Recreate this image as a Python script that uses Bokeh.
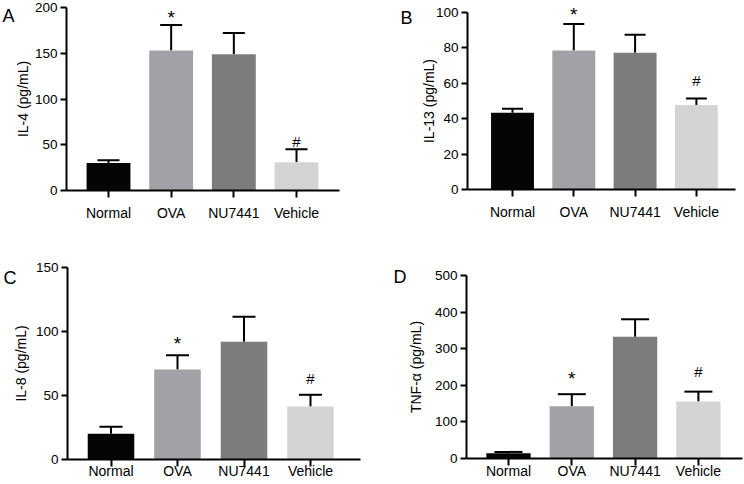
from bokeh.plotting import figure
from bokeh.models import (ColumnDataSource, Whisker, TeeHead, Label, LabelSet,
                          Range1d, FixedTicker)
from bokeh.layouts import column, row
from bokeh.core.properties import value
from bokeh.embed import file_html
from bokeh.resources import INLINE

categories = ["Normal", "OVA", "NU7441", "Vehicle"]
sig_marks = ["", "*", "", "#"]

il4_mean = [30, 153, 149, 31]
il4_err = [3, 28, 23, 14]
il4_sig_y = [None, 193, None, 55]
il4_ticks = [0, 50, 100, 150, 200]

il13_mean = [43.3, 78.5, 77.2, 47.8]
il13_err = [2.3, 15.0, 10.2, 3.6]
il13_sig_y = [None, 101, None, 62]
il13_ticks = [0, 20, 40, 60, 80, 100]

il8_mean = [19.9, 70.2, 91.9, 41.2]
il8_err = [5.4, 11.2, 19.5, 9.2]
il8_sig_y = [None, 94, None, 64]
il8_ticks = [0, 50, 100, 150]

tnf_mean = [14.6, 143, 333, 156]
tnf_err = [3.4, 33, 48, 27]
tnf_sig_y = [None, 231, None, 240]
tnf_ticks = [0, 100, 200, 300, 400, 500]

bar_colors = ["#050505", "#a2a2a6", "#7c7c7c", "#d4d4d4"]
FONT = "Liberation Sans"
W, H = 372, 242


def panel(letter, ylabel, means, errs, sig_y, ticks, g):
    ymax = ticks[-1]
    s = g["s"]
    x_start = -g["c0"] / s
    x_end = x_start + W / s
    axis_x = x_start + g["axis"] / s
    xb_end = x_start + g["xend"] / s
    k = (g["y0"] - g["ytop"]) / ymax
    y_end = g["y0"] / k
    y_start = -(H - g["y0"]) / k

    xs = list(range(len(categories)))
    p = figure(width=W, height=H, output_backend="svg", toolbar_location=None,
               x_range=Range1d(x_start, x_end), y_range=Range1d(y_start, y_end),
               min_border=0, min_border_left=0, min_border_right=0,
               min_border_top=0, min_border_bottom=0)
    p.outline_line_color = None
    p.xgrid.visible = False
    p.ygrid.visible = False

    src = ColumnDataSource(dict(x=xs, mean=means,
                                upper=[m + e for m, e in zip(means, errs)],
                                color=bar_colors))
    p.vbar(x="x", top="mean", width=0.7, source=src, fill_color="color",
           line_color=None)
    p.add_layout(Whisker(base="x", lower="mean", upper="upper", source=src,
                         line_width=2, line_color="black",
                         upper_head=TeeHead(size=g["cap"], line_width=2,
                                            line_color="black"),
                         lower_head=None))

    sx, sy, st, fs, yo = [], [], [], [], []
    for i, (m, y) in enumerate(zip(sig_marks, sig_y)):
        if m and y is not None:
            sx.append(i); sy.append(y); st.append(m)
            fs.append("19px" if m == "*" else "15px")
            yo.append(-4 if m == "*" else -1)
    ssrc = ColumnDataSource(dict(x=sx, y=sy, t=st, fs=fs, yo=yo))
    p.add_layout(LabelSet(x="x", y="y", text="t", source=ssrc,
                          y_offset="yo", text_font_size="fs",
                          text_align="center", text_baseline="middle",
                          text_font=value(FONT), text_color="black"))

    for ax in (p.xaxis[0], p.yaxis[0]):
        ax.axis_line_width = 2
        ax.axis_line_color = "black"
        ax.major_tick_line_width = 2
        ax.major_tick_line_color = "black"
        ax.major_tick_in = 0
        ax.minor_tick_line_color = None
        ax.major_label_text_font = FONT
        ax.major_label_text_color = "black"

    p.xaxis.fixed_location = 0
    p.xaxis.bounds = (axis_x, xb_end)
    p.xaxis.ticker = FixedTicker(ticks=xs)
    p.xaxis.major_label_overrides = {i: c for i, c in enumerate(categories)}
    p.xaxis.major_label_text_font_size = "14px"
    p.xaxis.major_tick_out = 7
    p.xaxis.major_label_standoff = g["xstand"]

    p.yaxis.fixed_location = axis_x
    p.yaxis.bounds = (0, ymax)
    p.yaxis.ticker = FixedTicker(ticks=ticks)
    p.yaxis.major_label_text_font_size = "13.5px"
    p.yaxis.major_tick_out = 6
    p.yaxis.major_label_standoff = 3
    p.yaxis.axis_label = ylabel
    p.yaxis.axis_label_text_font = FONT
    p.yaxis.axis_label_text_font_size = "14px"
    p.yaxis.axis_label_text_font_style = "normal"
    p.yaxis.axis_label_text_color = "black"
    p.yaxis.axis_label_standoff = g["ystand"]

    lx, ly = g["letter"]
    p.add_layout(Label(x=x_start + lx / s, y=(g["y0"] - (ly - 3)) / k,
                       text=letter, text_font=FONT, text_font_size="18px",
                       text_color="black", text_align="left",
                       text_baseline="top"))
    return p


pA = panel("A", "IL-4 (pg/mL)", il4_mean, il4_err, il4_sig_y, il4_ticks,
           dict(axis=66, c0=108, s=62.67, xend=339, ytop=7, y0=190,
                letter=(2, 8), cap=22, xstand=7, ystand=1))
pB = panel("B", "IL-13 (pg/mL)", il13_mean, il13_err, il13_sig_y, il13_ticks,
           dict(axis=95, c0=140, s=61.3, xend=363, ytop=12, y0=189,
                letter=(28, 10), cap=21, xstand=7, ystand=-4))
pC = panel("C", "IL-8 (pg/mL)", il8_mean, il8_err, il8_sig_y, il8_ticks,
           dict(axis=67, c0=110.5, s=66.5, xend=360, ytop=25, y0=216.7,
                letter=(3, 28), cap=23, xstand=-3, ystand=4))
pD = panel("D", "TNF-\u03b1 (pg/mL)", tnf_mean, tnf_err, tnf_sig_y, tnf_ticks,
           dict(axis=94, c0=136, s=63.3, xend=370, ytop=33.3, y0=216,
                letter=(21, 27), cap=28, xstand=-3, ystand=8))

layout = column(row(pA, pB), row(pC, pD))
open("out.html", "w").write(file_html(layout, INLINE))
